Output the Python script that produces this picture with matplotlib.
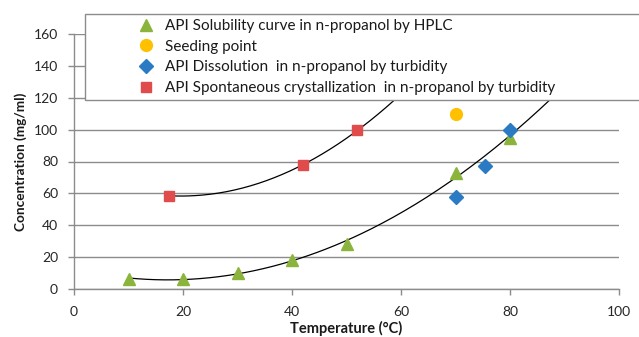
import numpy as np
import matplotlib
matplotlib.use("Agg")
import matplotlib.pyplot as plt
from matplotlib.patches import Rectangle

plt.rcParams['font.family'] = ['Lato', 'DejaVu Sans']

# Data
sol_T = [10, 20, 30, 40, 50, 70, 80]
sol_C = [6.5, 6.5, 10, 18, 28, 72.5, 95]
seed_T = [70]
seed_C = [110]
dis_T = [70, 75.5, 80]
dis_C = [58, 77, 99.5]
cry_T = [17.5, 42, 52]
cry_C = [58.5, 78, 99.5]

labels = ["API Solubility curve in n-propanol by HPLC",
          "Seeding point",
          "API Dissolution  in n-propanol by turbidity",
          "API Spontaneous crystallization  in n-propanol by turbidity"]
xticks = [0, 20, 40, 60, 80, 100]
yticks = [0, 20, 40, 60, 80, 100, 120, 140, 160]

W, H = 639, 337
fig = plt.figure(figsize=(W/100, H/100), dpi=100)
ax = fig.add_axes([74/W, 1-289/H, (619-74)/W, (289-34)/H])

grid_c = '#8c8c8c'
ax.set_xlim(0, 100)
ax.set_ylim(0, 160)
ax.set_xticks(xticks)
ax.set_yticks(yticks)
for s in ['top', 'right']:
    ax.spines[s].set_visible(False)
for s in ['left', 'bottom']:
    ax.spines[s].set_color(grid_c)
    ax.spines[s].set_linewidth(1.0)
ax.yaxis.grid(True, color=grid_c, linewidth=1.0)
ax.set_axisbelow(True)
ax.tick_params(axis='both', colors=grid_c, length=4.5, width=1.0, direction='out',
               labelcolor='#262626', labelsize=10)
ax.tick_params(axis='y', pad=7)
ax.tick_params(axis='x', pad=8)

# trendlines (2nd order polynomial fits)
ps = np.polyfit(sol_T, sol_C, 2)
xs = np.linspace(min(sol_T), 92, 200)
ax.plot(xs, np.polyval(ps, xs), color='black', lw=0.9, zorder=2)
pc = np.polyfit(cry_T, cry_C, 2)
xc = np.linspace(min(cry_T), 66, 200)
ax.plot(xc, np.polyval(pc, xc), color='black', lw=0.9, zorder=2)

h1, = ax.plot(sol_T, sol_C, '^', color='#8bb43c', ms=8.5, mec='#8bb43c', ls='none', zorder=3)
h2, = ax.plot(seed_T, seed_C, 'o', color='#ffc000', ms=8.5, ls='none', zorder=3)
h3, = ax.plot(dis_T, dis_C, 'D', color='#2a7ac4', ms=7.5, ls='none', zorder=4)
h4, = ax.plot(cry_T, cry_C, 's', color='#e04c4c', ms=7.2, ls='none', zorder=3)

ax.set_xlabel("Temperature (°C)", fontsize=10.5, fontweight='bold', color='#1a1a1a', labelpad=2)
ax.set_ylabel("Concentration (mg/ml)", fontsize=9.8, fontweight='bold', color='#1a1a1a')
ax.yaxis.set_label_coords(-(74-27)/545, 0.5)

# legend box
rect = Rectangle((85/W, 1-100/H), (660-85)/W, (100-14)/H, transform=fig.transFigure,
                 facecolor='white', edgecolor=grid_c, lw=1.0, zorder=10, clip_on=False)
ax.add_artist(rect)
leg = ax.legend([h1, h2, h3, h4], labels, loc='upper left',
                bbox_to_anchor=(134/W, 1-16/H), bbox_transform=fig.transFigure,
                frameon=False, fontsize=11.0, handletextpad=0.62, labelspacing=0.44,
                handlelength=1.2, borderpad=0.2, borderaxespad=0)
for t in leg.get_texts():
    t.set_color('#1a1a1a')
leg.set_zorder(20)

fig.savefig("out.png", dpi=100)
